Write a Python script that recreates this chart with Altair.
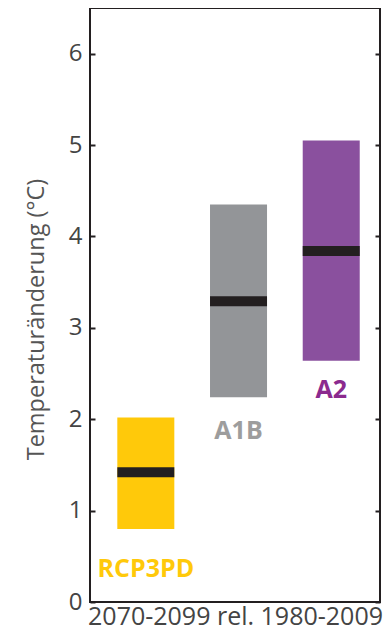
import altair as alt
import pandas as pd

scenarios = ["RCP3PD", "A1B", "A2"]
low = [0.80, 2.24, 2.64]
high = [2.02, 4.35, 5.05]
median = [1.42, 3.29, 3.84]
bar_colors = ["#FFC90A", "#939598", "#8A509E"]
label_colors = ["#FFC90A", "#9D9D9D", "#8B2A8E"]
label_offset = [40, 34, 29]

x_title = "2070-2099 rel. 1980-2009"
y_title = "Temperaturänderung (°C)"
y_ticks = [0, 1, 2, 3, 4, 5, 6]

W, H = 290, 594
YMAX = 6.5
FONT = "Open Sans"

df = pd.DataFrame({
    "scenario": scenarios, "low": low, "high": high, "median": median,
    "bar_color": bar_colors, "label_color": label_colors, "off": label_offset,
})

xenc = alt.X("scenario:N", sort=scenarios,
             scale=alt.Scale(paddingInner=0.385, paddingOuter=0.2566, align=0.574),
             axis=alt.Axis(title=x_title, labels=False, ticks=False, domain=False,
                           titleFontSize=25, titleFont=FONT, titleFontWeight="normal",
                           titleColor="#444444", titlePadding=2))
yscale = alt.Scale(domain=[0, YMAX], nice=False, zero=True)

bars = alt.Chart(df).mark_bar().encode(
    x=xenc,
    y=alt.Y("low:Q", scale=yscale,
            axis=alt.Axis(orient="left", values=y_ticks, title=y_title, ticks=False,
                          domain=False, grid=False, labelFontSize=24, labelFont=FONT,
                          labelColor="#444444", labelPadding=8, titleFontSize=23.5,
                          titleFont=FONT, titleFontWeight="normal", titleColor="#555555",
                          titlePadding=20, titleY=311)),
    y2="high:Q",
    color=alt.Color("bar_color:N", scale=None),
)

med = alt.Chart(df).mark_tick(thickness=10, size=57, opacity=1, color="#231F20").encode(
    x=xenc,
    y=alt.Y("median:Q", scale=yscale,
            axis=alt.Axis(orient="right", offset=-W, values=y_ticks, labels=False,
                          domain=False, grid=False, ticks=True, tickSize=5, tickWidth=2,
                          tickColor="#231F20", title=None)),
)

labels = alt.Chart(df).transform_calculate(
    lab=f"datum.low - datum.off * {YMAX} / {H}"
).mark_text(font=FONT, fontSize=25, fontWeight="bold",
            baseline="middle", align="center").encode(
    x=xenc,
    y=alt.Y("lab:Q", scale=yscale,
            axis=alt.Axis(orient="left", offset=-W, values=y_ticks, labels=False,
                          domain=False, grid=False, ticks=True, tickSize=5, tickWidth=2,
                          tickColor="#231F20", title=None)),
    text="scenario:N",
    color=alt.Color("label_color:N", scale=None),
)

chart = alt.layer(bars, med, labels).resolve_scale(y="shared").resolve_axis(
    y="independent"
).properties(
    width=W, height=H,
    autosize=alt.AutoSizeParams(type="none"),
    padding={"left": 82, "top": 0, "right": 3, "bottom": 29},
).configure_view(stroke="#231F20", strokeWidth=2)

chart.save("out.html", embed_options={"renderer": "svg", "actions": False})
